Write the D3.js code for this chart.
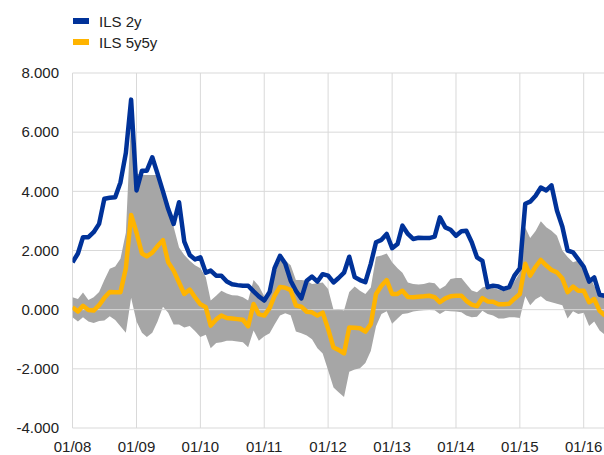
<!DOCTYPE html>
<html>
<head>
<meta charset="utf-8">
<script src="https://cdn.jsdelivr.net/npm/d3@7"></script>
<style>
  body { margin: 0; background: #fff; }
  text { font-family: "Liberation Sans", Arial, sans-serif; fill: #222; }
</style>
</head>
<body>
<svg id="chart" width="604" height="455"></svg>
<script>
// monthly observations, Jan 2008 onwards
const start = new Date(2008, 0, 1);

const ils2y = [
  1.60, 1.90, 2.45, 2.45, 2.62, 2.90, 3.75, 3.78, 3.80, 4.30,
  5.30, 7.10, 4.03, 4.70, 4.70, 5.15, 4.60, 4.00, 3.40, 2.90,
  3.63, 2.30, 1.85, 1.70, 1.77, 1.25, 1.32, 1.15, 1.15, 0.95,
  0.86, 0.83, 0.81, 0.81, 0.62, 0.45, 0.31, 0.60, 1.40, 1.82,
  1.56, 0.98, 0.64, 0.38, 0.98, 1.12, 0.95, 1.20, 1.15, 0.92,
  1.07, 1.25, 1.79, 1.10, 1.00, 0.93, 1.55, 2.28, 2.36, 2.56,
  2.08, 2.22, 2.84, 2.56, 2.39, 2.43, 2.42, 2.42, 2.47, 3.12,
  2.78, 2.70, 2.50, 2.65, 2.67, 2.28, 1.77, 1.65, 0.76, 0.81,
  0.78, 0.70, 0.76, 1.15, 1.40, 3.58, 3.65, 3.85, 4.13, 4.03,
  4.20, 3.35, 2.80, 2.00, 1.94, 1.70, 1.45, 0.95, 1.09, 0.50,
  0.47
];

const ils5y5y = [
  0.08, -0.06, 0.13, -0.01, -0.03, 0.15, 0.40, 0.60, 0.59, 0.59,
  1.40, 3.20, 2.60, 1.90, 1.80, 1.93, 2.15, 2.35, 1.60, 1.32,
  0.92, 0.53, 0.68, 0.42, 0.18, 0.08, -0.54, -0.33, -0.20, -0.28,
  -0.30, -0.32, -0.34, -0.56, 0.19, -0.15, -0.20, 0.06, 0.47, 0.77,
  0.74, 0.66, 0.14, 0.10, -0.07, -0.09, -0.20, -0.10, -0.65, -1.28,
  -1.36, -1.48, -0.60, -0.61, -0.63, -0.74, -0.49, 0.53, 0.81, 1.00,
  0.53, 0.53, 0.64, 0.43, 0.42, 0.44, 0.45, 0.47, 0.42, 0.25,
  0.38, 0.45, 0.47, 0.47, 0.30, 0.17, 0.12, 0.39, 0.28, 0.27,
  0.18, 0.18, 0.20, 0.37, 0.53, 1.55, 1.15, 1.45, 1.68, 1.49,
  1.34, 1.26, 1.05, 0.59, 0.78, 0.64, 0.64, 0.25, 0.36, -0.04,
  -0.20
];

const rangeHigh = [
  0.42, 0.36, 0.58, 0.33, 0.42, 0.60, 1.00, 1.38, 1.46, 1.72,
  2.60, 6.50, 4.60, 4.55, 4.55, 4.55, 4.55, 3.90, 3.40, 2.80,
  2.10, 1.85, 1.65, 1.50, 1.40, 1.10, 0.31, 0.47, 0.64, 0.55,
  0.49, 0.48, 0.42, 0.31, 1.00, 0.80, 0.45, 0.60, 1.20, 1.65,
  1.65, 1.50, 1.00, 1.00, 0.98, 0.87, 0.89, 0.92, 0.70, 0.00,
  0.02, -0.03, 0.60, 0.78, 0.64, 0.53, 0.75, 1.79, 1.83, 1.90,
  1.60, 1.40, 1.25, 0.92, 0.87, 0.85, 0.87, 0.92, 0.89, 0.70,
  0.81, 1.04, 1.07, 1.07, 0.87, 0.65, 0.59, 0.75, 0.80, 0.72,
  0.68, 0.64, 0.70, 0.95, 1.25, 2.78, 2.42, 2.66, 2.99, 2.79,
  2.67, 2.50, 2.00, 1.78, 1.60, 1.66, 1.43, 1.20, 0.80, 0.58,
  0.53
];

const rangeLow = [
  -0.26, -0.40, -0.26, -0.40, -0.45, -0.38, -0.37, -0.22, -0.35, -0.56,
  -0.78, 0.40, -0.40, -0.78, -0.92, -0.78, -0.40, 0.10, -0.10, -0.50,
  -0.50, -0.60, -0.55, -0.72, -0.92, -0.85, -1.30, -1.13, -1.10, -1.05,
  -1.05, -1.08, -1.10, -1.27, -0.70, -1.05, -0.90, -0.80, -0.50, -0.20,
  -0.12, -0.19, -0.74, -0.80, -0.87, -1.00, -1.30, -1.48, -2.05, -2.63,
  -2.79, -2.95, -2.10, -2.02, -1.98, -1.80, -1.40, -0.56, -0.15, -0.05,
  -0.48, -0.30, -0.15, -0.12, -0.06, -0.04, -0.02, -0.01, -0.02, -0.15,
  -0.04, -0.05, -0.06, -0.09, -0.20, -0.26, -0.24, -0.04, -0.15, -0.20,
  -0.30, -0.30, -0.26, -0.26, -0.28, 0.45, 0.15, 0.35, 0.45, 0.30,
  0.25, 0.20, 0.15, -0.30, -0.05, -0.15, -0.10, -0.55, -0.40, -0.70,
  -0.85
];

const yTicks = [-4, -2, 0, 2, 4, 6, 8];
const xTickYears = [2008, 2009, 2010, 2011, 2012, 2013, 2014, 2015, 2016];
const seriesNames = ["ILS 2y", "ILS 5y5y"];
const seriesColors = ["#003299", "#FFB400"];

const data = ils2y.map((v, i) => ({
  date: d3.timeMonth.offset(start, i),
  a: v, b: ils5y5y[i], lo: rangeLow[i], hi: rangeHigh[i]
}));

const svg = d3.select("#chart");
const margin = {left: 72.5, right: 604, top: 73, bottom: 428};

const x = d3.scaleTime()
  .domain([new Date(2008, 0, 1), new Date(2016, 0, 1)])
  .range([margin.left, 583.7]);
const y = d3.scaleLinear().domain([-4, 8]).range([margin.bottom, margin.top]);

svg.append("defs").append("clipPath").attr("id", "clip")
  .append("rect").attr("x", margin.left).attr("y", 0)
  .attr("width", margin.right - margin.left).attr("height", 455);

// gridlines
const grid = svg.append("g").attr("stroke", "#d9d9d9").attr("stroke-width", 1);
grid.selectAll(".h").data(yTicks.filter(d => d !== 0)).join("line")
  .attr("x1", margin.left).attr("x2", margin.right)
  .attr("y1", d => y(d)).attr("y2", d => y(d));
grid.selectAll(".v").data(xTickYears).join("line")
  .attr("x1", d => x(new Date(d, 0, 1))).attr("x2", d => x(new Date(d, 0, 1)))
  .attr("y1", margin.top).attr("y2", margin.bottom);

const plot = svg.append("g").attr("clip-path", "url(#clip)");

plot.append("path").datum(data)
  .attr("fill", "#a6a6a6")
  .attr("d", d3.area().x(d => x(d.date)).y0(d => y(d.lo)).y1(d => y(d.hi)));

plot.append("line")
  .attr("x1", margin.left).attr("x2", margin.right)
  .attr("y1", y(0)).attr("y2", y(0))
  .attr("stroke", "#d9d9d9").attr("stroke-width", 1);

plot.append("path").datum(data)
  .attr("fill", "none").attr("stroke", seriesColors[0]).attr("stroke-width", 4.5)
  .attr("stroke-linejoin", "round")
  .attr("d", d3.line().x(d => x(d.date)).y(d => y(d.a)));

plot.append("path").datum(data)
  .attr("fill", "none").attr("stroke", seriesColors[1]).attr("stroke-width", 4.5)
  .attr("stroke-linejoin", "round")
  .attr("d", d3.line().x(d => x(d.date)).y(d => y(d.b)));

// axes labels
const loc = d3.formatLocale({decimal: ".", thousands: ",", grouping: [3], currency: ["", ""], minus: "-"});
const fmt = loc.format(".3f");

svg.append("g").selectAll("text").data(yTicks).join("text")
  .attr("x", 59).attr("y", d => y(d)).attr("dy", "0.35em")
  .attr("text-anchor", "end").attr("font-size", 15)
  .text(d => fmt(d));

svg.append("g").selectAll("text").data(xTickYears).join("text")
  .attr("x", d => x(new Date(d, 0, 1))).attr("y", 452)
  .attr("text-anchor", "middle").attr("font-size", 15)
  .text(d => d3.timeFormat("%m/%y")(new Date(d, 0, 1)));

// legend
const legend = svg.append("g").selectAll("g").data(seriesNames).join("g")
  .attr("transform", (d, i) => `translate(73,${18 + i * 21})`);
legend.append("rect").attr("width", 16).attr("height", 6)
  .attr("fill", (d, i) => seriesColors[i]);
legend.append("text").attr("x", 26).attr("y", 8.5)
  .attr("font-size", 15).text(d => d);
</script>
</body>
</html>
